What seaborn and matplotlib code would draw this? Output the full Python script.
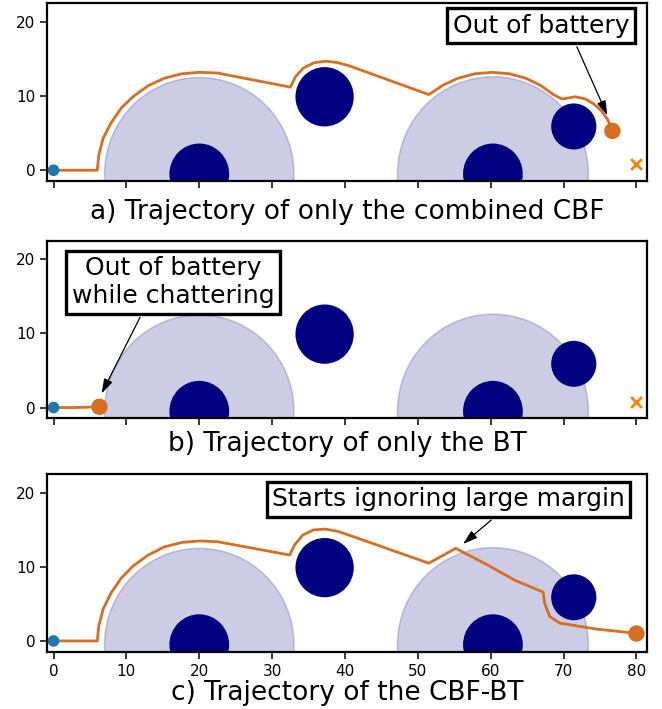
import matplotlib
matplotlib.use("Agg")
import matplotlib.pyplot as plt
from matplotlib.patches import Circle
import pandas as pd
import seaborn as sns

# obstacles (same in every panel)
obs_x = [20.0, 37.2, 60.3, 71.4]
obs_y = [-0.5, 9.9, -0.5, 5.9]
obs_r = [4.1, 4.0, 4.1, 3.1]
# large safety margins around the two ground obstacles
margin_x = [20.0, 60.3]
margin_y = [-0.5, -0.5]
margin_r = [13.0, 13.1]

start = (0.0, 0.0)
goal = (80.0, 0.8)

# a) only the combined CBF
traj_a_x = [0, 6.0, 6.2, 6.8, 7.9, 9.3, 11.0, 13.0, 15.2, 17.6, 20.0, 22.5, 32.5,
            33.2, 34.3, 35.8, 37.4, 39.0, 40.5, 51.5, 53.5, 55.5, 57.8, 60.2,
            62.6, 64.8, 66.9, 68.6, 69.8, 71.6, 73.0, 74.2, 75.2, 76.0, 76.4, 76.7]
traj_a_y = [0, 0.0, 2.0, 4.3, 6.4, 8.4, 10.0, 11.4, 12.4, 13.0, 13.2, 13.1, 11.2,
            12.6, 13.8, 14.5, 14.7, 14.5, 14.1, 10.2, 11.5, 12.4, 13.0, 13.2,
            13.0, 12.4, 11.4, 10.2, 9.6, 9.9, 9.6, 8.9, 8.0, 6.9, 6.1, 5.3]

# b) only the BT
traj_b_x = [0, 3.0, 6.3]
traj_b_y = [0, 0.0, 0.1]

# c) the CBF-BT
traj_c_x = [0, 6.0, 6.2, 6.8, 7.9, 9.3, 11.0, 13.0, 15.2, 17.6, 20.0, 22.5, 32.4,
            33.1, 34.2, 35.7, 37.3, 39.0, 40.5, 51.5, 55.2, 59.5, 63.3, 67.2,
            67.4, 68.1, 69.5, 70.8, 74.5, 77.5, 80.0]
traj_c_y = [0, 0.0, 2.0, 4.3, 6.5, 8.5, 10.2, 11.6, 12.7, 13.3, 13.5, 13.4, 11.6,
            13.0, 14.3, 15.0, 15.1, 14.8, 14.3, 10.5, 12.5, 10.3, 8.2, 6.6,
            5.1, 3.3, 2.4, 2.2, 1.6, 1.3, 1.0]

captions = ["a) Trajectory of only the combined CBF",
            "b) Trajectory of only the BT",
            "c) Trajectory of the CBF-BT"]
notes = ["Out of battery", "Out of battery\nwhile chattering",
         "Starts ignoring large margin"]
note_xy = [(76.0, 7.4), (6.6, 1.9), (56.2, 13.1)]
note_text_xy = [(66.9, 19.5), (16.4, 16.9), (54.2, 19.1)]
note_relpos = [(0.68, 0.0), (0.36, 0.0), (0.65, 0.0)]

x_ticks = [0, 10, 20, 30, 40, 50, 60, 70, 80]
y_ticks = [0, 10, 20]

traj_color = "#d66f22"
W, H = 662, 709

sns.set_style("ticks")
plt.rcParams["font.family"] = ["DejaVu Sans"]
plt.rcParams["text.color"] = "black"
plt.rcParams["xtick.color"] = "black"
plt.rcParams["ytick.color"] = "black"

fig = plt.figure(figsize=(W / 100, H / 100), dpi=100)
# axes boxes in pixels: (left, top, right, bottom)
boxes = [(47, 3.3, 647, 181), (47, 240.7, 647, 418.3), (47, 474.3, 647, 651.7)]
caption_base = [219, 451, 700]

panels = [(traj_a_x, traj_a_y, True), (traj_b_x, traj_b_y, True),
          (traj_c_x, traj_c_y, False)]

for i, (tx, ty, show_goal) in enumerate(panels):
    l, t, r, b = boxes[i]
    ax = fig.add_axes([l / W, 1 - b / H, (r - l) / W, (b - t) / H])

    for cx, cy, cr in zip(margin_x, margin_y, margin_r):
        ax.add_patch(Circle((cx, cy), cr, facecolor=(0, 0, 0.5, 0.2),
                            edgecolor=(0, 0, 0.5, 0.18), lw=1.2, zorder=1))
    for cx, cy, cr in zip(obs_x, obs_y, obs_r):
        ax.add_patch(Circle((cx, cy), cr, facecolor="navy", edgecolor="none",
                            zorder=2))

    df = pd.DataFrame({"x": tx, "y": ty})
    sns.lineplot(data=df, x="x", y="y", sort=False, estimator=None,
                 color=traj_color, lw=2.0, ax=ax, zorder=3)
    sns.scatterplot(x=[start[0]], y=[start[1]], color="#1f77b4", s=70,
                    edgecolor="none", ax=ax, zorder=4)
    sns.scatterplot(x=[tx[-1]], y=[ty[-1]], color=traj_color, s=140,
                    edgecolor="none", ax=ax, zorder=4)
    if show_goal:
        ax.scatter([goal[0]], [goal[1]], marker="x", color="#ff7f0e", s=60,
                   linewidths=2, zorder=4)

    ax.annotate(notes[i], xy=note_xy[i], xytext=note_text_xy[i],
                ha="center", va="center", fontsize=18, zorder=6,
                bbox=dict(boxstyle="square,pad=0.22", fc="white", ec="black",
                          lw=2.4),
                arrowprops=dict(arrowstyle="-|>,head_length=0.8,head_width=0.25",
                                color="black", lw=0.9, shrinkB=0,
                                relpos=note_relpos[i], mutation_scale=11))

    ax.set_xlim(-0.9, 81.45)
    ax.set_ylim(-1.45, 22.5)
    ax.set_xticks(x_ticks)
    ax.set_yticks(y_ticks)
    ax.tick_params(labelsize=11, length=5, width=1.1, colors="black")
    if i < 2:
        ax.set_xticklabels([])
    ax.set_xlabel("")
    ax.set_ylabel("")
    for s in ax.spines.values():
        s.set_linewidth(1.6)
        s.set_color("black")
        s.set_zorder(7)

    fig.text(347 / W, 1 - caption_base[i] / H, captions[i], ha="center",
             va="baseline", fontsize=19, color="black")

fig.savefig("out.png", dpi=100)
